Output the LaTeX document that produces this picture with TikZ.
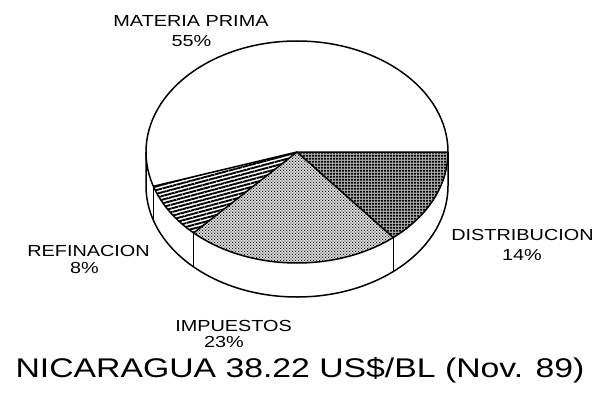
\documentclass[tikz,border=0pt]{standalone}
\usepackage{fontspec}
\setmainfont{Liberation Sans}
\usetikzlibrary{patterns,patterns.meta}

\pgfdeclarepattern{name=gridDots, type=uncolored,
  bottom left={\pgfpoint{0pt}{0pt}}, top right={\pgfpoint{3pt}{3.3pt}},
  tile size={\pgfpoint{3pt}{3.3pt}},
  code={\pgfpathrectangle{\pgfpoint{0.3pt}{0.5pt}}{\pgfpoint{2.4pt}{2.2pt}}\pgfusepath{fill}}}

\pgfdeclarepattern{name=fineDots, type=uncolored,
  bottom left={\pgfpoint{0pt}{0pt}}, top right={\pgfpoint{2.8pt}{2.8pt}},
  tile size={\pgfpoint{2.8pt}{2.8pt}},
  code={\pgfpathcircle{\pgfpoint{0.7pt}{0.7pt}}{0.65pt}\pgfpathcircle{\pgfpoint{2.1pt}{2.1pt}}{0.65pt}\pgfusepath{fill}}}

\newcommand{\widetxt}[1]{\scalebox{1.24}[1]{#1}}

\begin{document}
\begin{tikzpicture}[x=1pt,y=-1pt,line join=round,
  outline/.style={draw=black,line width=1.5pt},
  rim/.style={draw=black,line width=1.1pt},
  lbl/.style={font=\fontsize{16}{16}\selectfont,inner sep=0pt,anchor=base,text height=11.5pt,text depth=0pt},
  ttl/.style={font=\fontsize{27}{27}\selectfont,inner sep=0pt,anchor=base}]
\useasboundingbox (0,0) rectangle (597,396);
\fill[white] (0,0) rectangle (597,396);

% geometry
\coordinate (C) at (297,152);
\path (C) ++(0:151 and 111) coordinate (p0)
      (C) ++(50.4:151 and 111) coordinate (p1)
      (C) ++(133.2:151 and 111) coordinate (p2)
      (C) ++(162:151 and 111) coordinate (p3)
      (C) ++(180:151 and 111) coordinate (p4);
\path (p0) ++(0,34) coordinate (q0)
      (p1) ++(0,34) coordinate (q1)
      (p2) ++(0,34) coordinate (q2)
      (p3) ++(0,34) coordinate (q3)
      (p4) ++(0,34) coordinate (q4);

% side wall
\fill[white] (p0) arc[start angle=0,end angle=180,x radius=151,y radius=111]
   -- (q4) arc[start angle=180,end angle=0,x radius=151,y radius=111] -- cycle;
\draw[outline] (p0) -- (q0) arc[start angle=0,end angle=180,x radius=151,y radius=111] -- (p4);
\draw[rim] (p1) -- (q1);
\draw[rim] (p2) -- (q2);
\draw[rim] (p3) -- (q3);

% slices
\fill[black!30] (C) -- (p0) arc[start angle=0,end angle=50.4,x radius=151,y radius=111] -- cycle;
\fill[pattern=gridDots] (C) -- (p0) arc[start angle=0,end angle=50.4,x radius=151,y radius=111] -- cycle;
\fill[black!10] (C) -- (p1) arc[start angle=50.4,end angle=133.2,x radius=151,y radius=111] -- cycle;
\fill[pattern=fineDots] (C) -- (p1) arc[start angle=50.4,end angle=133.2,x radius=151,y radius=111] -- cycle;
\fill[pattern={Lines[angle=15,distance=3.6pt,line width=1.9pt]}] (C) -- (p2) arc[start angle=133.2,end angle=162,x radius=151,y radius=111] -- cycle;

\draw[outline] (C) ellipse[x radius=151,y radius=111];
\draw[outline] (p0) -- (C) -- (p1);
\draw[outline] (C) -- (p2);
\draw[outline] (C) -- (p3);

% labels
\node[lbl] (mp1) at (191,27) {\widetxt{MATERIA PRIMA}};
\node[lbl] (mp2) at (191.5,47) {\widetxt{55\%}};
\node[lbl] (di1) at (522.5,240.5) {\widetxt{DISTRIBUCION}};
\node[lbl] (di2) at (522,260) {\widetxt{14\%}};
\node[lbl] (re1) at (88.5,256) {\widetxt{REFINACION}};
\node[lbl] (re2) at (84.5,273) {\widetxt{8\%}};
\node[lbl] (im1) at (233.5,331) {\widetxt{IMPUESTOS}};
\node[lbl] (im2) at (224,347) {\widetxt{23\%}};
\node[ttl] (title) at (300,377) {\scalebox{1.25}[1]{NICARAGUA 38.22 US\$/BL (Nov. 89)}};
\end{tikzpicture}
\end{document}
